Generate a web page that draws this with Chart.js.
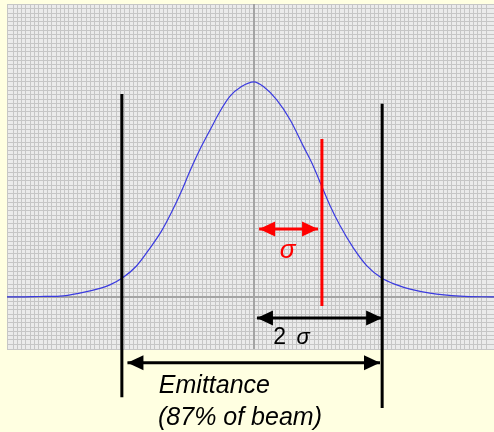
<!DOCTYPE html>
<html>
<head>
<meta charset="utf-8">
<script src="https://cdn.jsdelivr.net/npm/chart.js@4.4.0/dist/chart.umd.min.js"></script>
<style>
body { margin: 0; background: #ffffe1; }
canvas { display: block; }
</style>
</head>
<body>
<canvas id="beam" width="494" height="432"></canvas>
<script>
// Beam profile, measured in grid cells (beam centre = 0, baseline = 0)
const curveX = [-57.4, -54.4, -49.8, -45.1, -40.5, -35.8, -33.5, -30.6, -27.3, -24.2, -21.5, -19.1, -16.8, -14.9, -12.6, -10.2, -7.9, -5.6, -2.9, 0, 2.2, 5.3, 8.4, 11.5, 13.8, 15.7, 17.7, 20.0, 23.1, 26.2, 29.7, 33.2, 36.3, 40.9, 47.9, 55.8];
const curveY = [0, 0, 0.1, 0.2, 0.9, 2.0, 2.8, 4.4, 7.2, 11.3, 15.3, 19.8, 24.7, 29.2, 34.2, 38.8, 43.1, 46.6, 48.9, 50, 48.9, 45.8, 41.2, 35.0, 30.4, 25.9, 21.2, 16.6, 11.4, 7.3, 4.4, 2.8, 1.8, 0.9, 0.2, 0];

// Vertical markers (emittance edges and the 1 sigma line)
const markerX = [-30.7, 29.8, 15.8];
const markerTop = [47.2, 44.9, 36.7];
const markerBottom = [-23.3, -25.8, -2.1];
const markerColors = ['#000000', '#000000', '#ff0000'];

// Double headed arrows
const arrowFrom = [1.2, 0.7, -29.4];
const arrowTo = [14.9, 29.8, 29.3];
const arrowY = [15.8, -4.9, -15.3];
const arrowColors = ['#ff0000', '#000000', '#000000'];

// Text labels
const labelText = ['σ', '2', 'σ', 'Emittance', '(87% of beam)'];
const labelX = [6.0, 4.5, 9.9, -22.1, -22.3];
const labelY = [9.1, -10.9, -10.9, -22.4, -29.8];
const labelColors = ['#ff0000', '#000000', '#000000', '#000000', '#000000'];
const labelSize = [26, 23, 22, 25, 25];
const labelItalic = [true, false, true, true, true];

const FONT = 'Arial, "Liberation Sans", sans-serif';

const datasets = [];
datasets.push({
    data: curveX.map((x, i) => ({ x: x, y: curveY[i] })),
    borderColor: '#3a3ae0',
    borderWidth: 1.2,
    pointRadius: 0,
    cubicInterpolationMode: 'monotone',
    order: 5
});
markerX.forEach((x, i) => {
    datasets.push({
        data: [{ x: x, y: markerTop[i] }, { x: x, y: markerBottom[i] }],
        borderColor: markerColors[i],
        borderWidth: 3,
        pointRadius: 0,
        clip: false,
        order: 2
    });
});
arrowFrom.forEach((x, i) => {
    datasets.push({
        data: [{ x: x, y: arrowY[i] }, { x: arrowTo[i], y: arrowY[i] }],
        borderColor: arrowColors[i],
        borderWidth: 3,
        pointRadius: 0,
        clip: false,
        order: 1
    });
});

const backdrop = {
    id: 'backdrop',
    beforeDraw(chart) {
        const { ctx, chartArea: a } = chart;
        ctx.save();
        ctx.fillStyle = '#ffffe1';
        ctx.fillRect(0, 0, chart.width, chart.height);
        ctx.fillStyle = '#ebebeb';
        ctx.fillRect(a.left, a.top, a.right - a.left, a.bottom - a.top);
        ctx.restore();
    },
    beforeDatasetsDraw(chart) {
        // centre axes drawn over the fine grid
        const { ctx, chartArea: a } = chart;
        const px = Math.round(chart.scales.x.getPixelForValue(0));
        const py = Math.round(chart.scales.y.getPixelForValue(0));
        ctx.save();
        ctx.strokeStyle = '#a4a4a4';
        ctx.lineWidth = 2;
        ctx.beginPath();
        ctx.moveTo(px, a.top);
        ctx.lineTo(px, a.bottom);
        ctx.moveTo(a.left, py);
        ctx.lineTo(a.right, py);
        ctx.stroke();
        ctx.restore();
    }
};

const annotations = {
    id: 'annotations',
    afterDraw(chart) {
        const { ctx } = chart;
        const xs = chart.scales.x, ys = chart.scales.y;
        ctx.save();
        // arrow heads
        arrowFrom.forEach((x, i) => {
            const y = ys.getPixelForValue(arrowY[i]);
            const ends = [[xs.getPixelForValue(x), 1], [xs.getPixelForValue(arrowTo[i]), -1]];
            ctx.fillStyle = arrowColors[i];
            ends.forEach(([px, dir]) => {
                ctx.beginPath();
                ctx.moveTo(px, y);
                ctx.lineTo(px + dir * 16, y - 7.5);
                ctx.lineTo(px + dir * 16, y + 7.5);
                ctx.closePath();
                ctx.fill();
            });
        });
        // labels
        ctx.textAlign = 'left';
        ctx.textBaseline = 'alphabetic';
        labelText.forEach((t, i) => {
            ctx.font = (labelItalic[i] ? 'italic ' : '') + labelSize[i] + 'px ' + FONT;
            ctx.fillStyle = labelColors[i];
            ctx.fillText(t, xs.getPixelForValue(labelX[i]), ys.getPixelForValue(labelY[i]));
        });
        ctx.restore();
    }
};

function gridOptions() {
    return {
        drawTicks: false,
        color: '#c6c6c6',
        lineWidth: 1
    };
}

new Chart(document.getElementById('beam').getContext('2d'), {
    type: 'line',
    data: { datasets: datasets },
    options: {
        responsive: false,
        animation: false,
        layout: { padding: { left: 7, top: 4, right: 0, bottom: 83 } },
        plugins: { legend: { display: false }, tooltip: { enabled: false } },
        scales: {
            x: {
                type: 'linear',
                min: -57.4,
                max: 55.8,
                ticks: { display: false, stepSize: 1, maxTicksLimit: 300 },
                grid: gridOptions(),
                border: { display: false }
            },
            y: {
                type: 'linear',
                min: -12.1,
                max: 68.1,
                ticks: { display: false, stepSize: 1, maxTicksLimit: 300 },
                grid: gridOptions(),
                border: { display: false }
            }
        }
    },
    plugins: [backdrop, annotations]
});
</script>
</body>
</html>
